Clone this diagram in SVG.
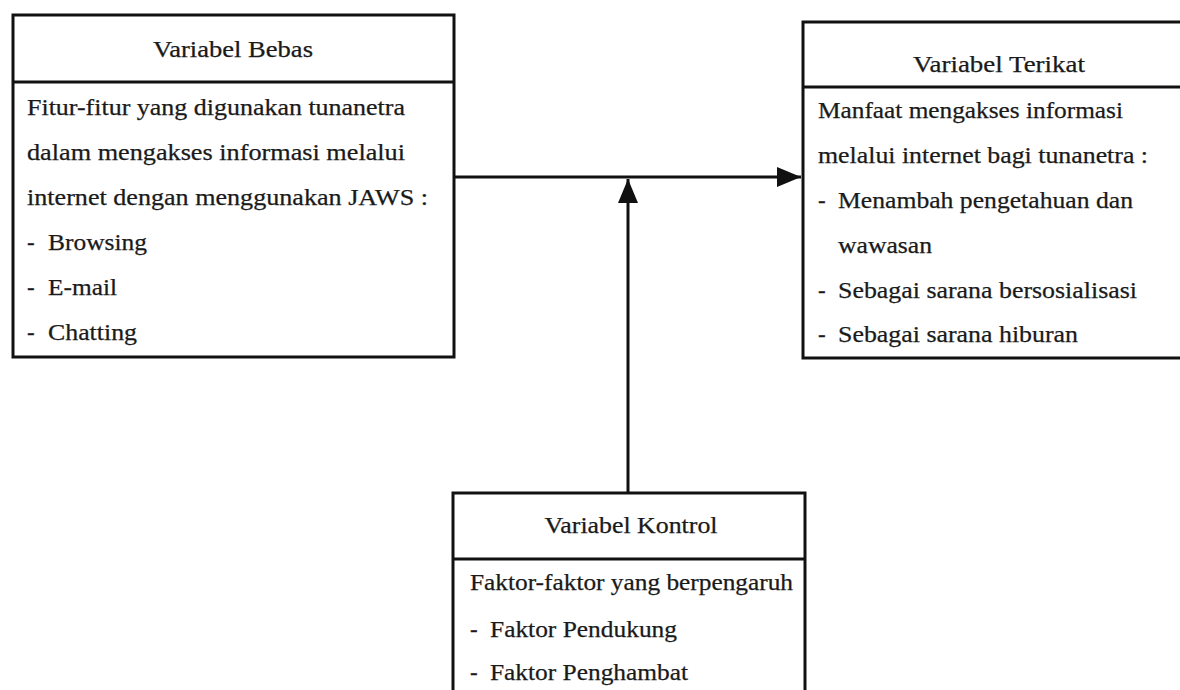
<svg xmlns="http://www.w3.org/2000/svg" width="1180" height="690" viewBox="0 0 1180 690">
<style>
.box{fill:#fff;stroke:#111;stroke-width:3}
.div{stroke:#111;stroke-width:3}
.t{font-family:"Liberation Serif","Times New Roman",serif;font-size:23px;fill:#1a1a1a;stroke:#1a1a1a;stroke-width:0.25}
.con{stroke:#111;stroke-width:3;fill:none}
</style>
<defs>
<marker id="ah" viewBox="0 0 24 20" refX="24" refY="10" markerWidth="24" markerHeight="20" markerUnits="userSpaceOnUse" orient="auto">
<path d="M0,0 L24,10 L0,20 Z" fill="#111"/>
</marker>
</defs>
<rect width="1180" height="690" fill="#fff"/>
<g id="connectors">
<path class="con" d="M455,177 L801,177" marker-end="url(#ah)"/>
<path class="con" d="M628,493 L628,179" marker-end="url(#ah)"/>
</g>
<g id="variabel-bebas">
<rect class="box" x="13" y="15" width="441" height="342"/>
<line class="div" x1="13" y1="82" x2="454" y2="82"/>
<text class="t" x="233" y="57" text-anchor="middle" textLength="160" lengthAdjust="spacingAndGlyphs">Variabel Bebas</text>
<text class="t" x="27" y="115" textLength="378" lengthAdjust="spacingAndGlyphs">Fitur-fitur yang digunakan tunanetra</text>
<text class="t" x="27" y="160" textLength="378" lengthAdjust="spacingAndGlyphs">dalam mengakses informasi melalui</text>
<text class="t" x="27" y="205" textLength="401" lengthAdjust="spacingAndGlyphs">internet dengan menggunakan JAWS :</text>
<text class="t" x="27" y="250">-</text><text class="t" x="48" y="250" textLength="99" lengthAdjust="spacingAndGlyphs">Browsing</text>
<text class="t" x="27" y="295">-</text><text class="t" x="48" y="295" textLength="69" lengthAdjust="spacingAndGlyphs">E-mail</text>
<text class="t" x="27" y="340">-</text><text class="t" x="48" y="340" textLength="89" lengthAdjust="spacingAndGlyphs">Chatting</text>
</g>
<g id="variabel-terikat">
<rect class="box" x="803" y="22" width="390" height="336"/>
<line class="div" x1="803" y1="87" x2="1190" y2="87"/>
<text class="t" x="999" y="72" text-anchor="middle" textLength="172" lengthAdjust="spacingAndGlyphs">Variabel Terikat</text>
<text class="t" x="818" y="118" textLength="305" lengthAdjust="spacingAndGlyphs">Manfaat mengakses informasi</text>
<text class="t" x="818" y="163" textLength="330" lengthAdjust="spacingAndGlyphs">melalui internet bagi tunanetra :</text>
<text class="t" x="818" y="208">-</text><text class="t" x="838" y="208" textLength="295" lengthAdjust="spacingAndGlyphs">Menambah pengetahuan dan</text>
<text class="t" x="838" y="253" textLength="94" lengthAdjust="spacingAndGlyphs">wawasan</text>
<text class="t" x="818" y="298">-</text><text class="t" x="838" y="298" textLength="299" lengthAdjust="spacingAndGlyphs">Sebagai sarana bersosialisasi</text>
<text class="t" x="818" y="342">-</text><text class="t" x="838" y="342" textLength="240" lengthAdjust="spacingAndGlyphs">Sebagai sarana hiburan</text>
</g>
<g id="variabel-kontrol">
<rect class="box" x="453" y="493" width="352" height="210"/>
<line class="div" x1="453" y1="559" x2="805" y2="559"/>
<text class="t" x="631" y="533" text-anchor="middle" textLength="173" lengthAdjust="spacingAndGlyphs">Variabel Kontrol</text>
<text class="t" x="470" y="590" textLength="323" lengthAdjust="spacingAndGlyphs">Faktor-faktor yang berpengaruh</text>
<text class="t" x="470" y="637">-</text><text class="t" x="490" y="637" textLength="187" lengthAdjust="spacingAndGlyphs">Faktor Pendukung</text>
<text class="t" x="470" y="680">-</text><text class="t" x="490" y="680" textLength="198" lengthAdjust="spacingAndGlyphs">Faktor Penghambat</text>
</g>
</svg>
